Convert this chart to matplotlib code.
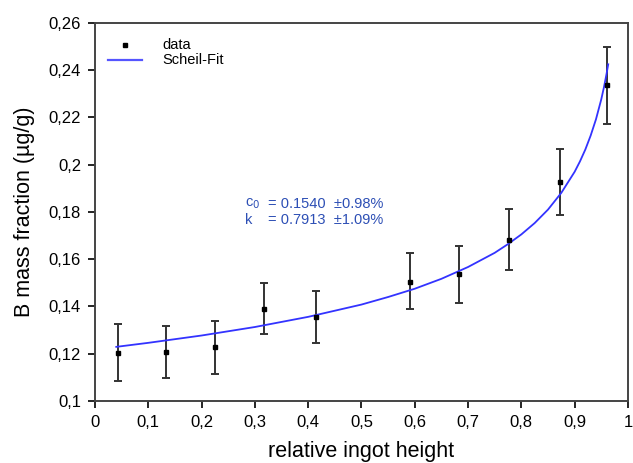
#!/usr/bin/env python3
"""
Scheil-Fit der B-Massenanteile über die relative Ingot-Höhe
"""

import matplotlib
matplotlib.use('Agg')
import matplotlib.pyplot as plt
from matplotlib.ticker import FuncFormatter

plt.rcParams['font.family'] = ['Liberation Sans', 'DejaVu Sans']

# Messpunkte
height = [0.043, 0.133, 0.225, 0.317, 0.415, 0.591, 0.683, 0.777, 0.872, 0.961]
b_frac = [0.1203, 0.1207, 0.1229, 0.1389, 0.1356, 0.1504, 0.1538, 0.1681, 0.1927, 0.2338]
err_hi = [0.1326, 0.1317, 0.1339, 0.1499, 0.1466, 0.1626, 0.1656, 0.1813, 0.2067, 0.2498]
err_lo = [0.1085, 0.1097, 0.1114, 0.1284, 0.1245, 0.1389, 0.1415, 0.1554, 0.1787, 0.2172]

# Scheil-Fit Kurve
fit_x = [0.04, 0.10, 0.20, 0.30, 0.40, 0.50, 0.55, 0.60, 0.65, 0.70, 0.75, 0.775,
         0.80, 0.825, 0.85, 0.875, 0.90, 0.91, 0.92, 0.93, 0.94, 0.95, 0.955, 0.96, 0.963]
fit_y = [0.1229, 0.1246, 0.1277, 0.1313, 0.1356, 0.1408, 0.1440, 0.1475, 0.1517, 0.1567,
         0.1627, 0.1664, 0.1705, 0.1753, 0.1810, 0.1881, 0.1970, 0.2014, 0.2064, 0.2123,
         0.2192, 0.2277, 0.2328, 0.2386, 0.2425]

x_ticks = [0, 0.1, 0.2, 0.3, 0.4, 0.5, 0.6, 0.7, 0.8, 0.9, 1.0]
y_ticks = [0.10, 0.12, 0.14, 0.16, 0.18, 0.20, 0.22, 0.24, 0.26]


def comma_fmt(v, pos):
    s = f"{v:.2f}".rstrip('0').rstrip('.')
    return s.replace('.', ',')


fig = plt.figure(figsize=(6.33, 4.63), dpi=100)
ax = fig.add_axes([0.150, 0.134, 0.842, 0.8164])

yerr = [[b - lo for b, lo in zip(b_frac, err_lo)],
        [hi - b for b, hi in zip(b_frac, err_hi)]]
ax.errorbar(height, b_frac, yerr=yerr, fmt='none', ecolor='#333333',
            elinewidth=1.4, capsize=3, capthick=1.4, zorder=2)
ax.plot(height, b_frac, 's', color='black', markersize=3.5, zorder=4)
ax.plot(fit_x, fit_y, color='#3333ff', linewidth=1.3, zorder=3)

ax.set_xlim(0, 1)
ax.set_ylim(0.1, 0.26)
ax.set_xticks(x_ticks)
ax.set_yticks(y_ticks)
ax.xaxis.set_major_formatter(FuncFormatter(comma_fmt))
ax.yaxis.set_major_formatter(FuncFormatter(comma_fmt))
ax.tick_params(direction='out', length=5, width=1.2, pad=5, labelsize=12,
               colors='black')
for sp in ax.spines.values():
    sp.set_linewidth(1.4)
    sp.set_color('#444444')

ax.set_xlabel('relative ingot height', fontsize=15.5, labelpad=8)
ax.set_ylabel('B mass fraction (µg/g)', fontsize=15.5, labelpad=10)

# Legende (manuell)
ax.plot([0.056], [0.2507], 's', color='black', markersize=2.5)
ax.plot([0.024, 0.089], [0.2443, 0.2443], color='#5555ff', linewidth=1.6)
ax.text(0.127, 0.2507, 'data', fontsize=10.5, va='center')
ax.text(0.127, 0.2443, 'Scheil-Fit', fontsize=10.5, va='center')

# Fit-Parameter
txt_col = '#2d4fb5'
ax.text(0.281, 0.1834, 'c$_0$', fontsize=10.5, color=txt_col, va='center')
ax.text(0.325, 0.1834, '= 0.1540  ±0.98%', fontsize=10.5, color=txt_col, va='center')
ax.text(0.281, 0.1766, 'k', fontsize=10.5, color=txt_col, va='center')
ax.text(0.325, 0.1766, '= 0.7913  ±1.09%', fontsize=10.5, color=txt_col, va='center')

plt.savefig('out.png', dpi=100)
plt.close()
